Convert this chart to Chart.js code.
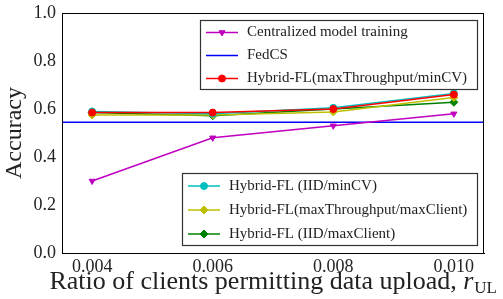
<!DOCTYPE html>
<html>
<head>
<meta charset="utf-8">
<script src="https://cdn.jsdelivr.net/npm/chart.js@4/dist/chart.umd.min.js"></script>
<style>
  html, body { margin: 0; padding: 0; background: #fff; }
  #wrap { width: 503px; height: 299px; }
</style>
</head>
<body>
<div id="wrap"><canvas id="accChart" width="503" height="299"></canvas></div>
<script>
const ratios = [0.004, 0.006, 0.008, 0.010];
const xTicks = [0.004, 0.006, 0.008, 0.010];
const yTicks = [0.0, 0.2, 0.4, 0.6, 0.8, 1.0];
const xRange = [0.0035, 0.0105];

const centralized = [0.30, 0.48, 0.53, 0.58];
const fedcs = 0.545;
const hybridMaxTpMinCV = [0.585, 0.585, 0.600, 0.660];
const hybridIidMinCV = [0.590, 0.580, 0.605, 0.665];
const hybridMaxTpMaxClient = [0.575, 0.575, 0.588, 0.648];
const hybridIidMaxClient = [0.585, 0.572, 0.600, 0.628];

const serif = '"Liberation Serif", "DejaVu Serif", serif';

function pts(vals) {
    return ratios.map((x, i) => ({ x: x, y: vals[i] }));
}

function series(label, vals, color, marker, rot, size) {
    return {
        label: label,
        data: pts(vals),
        borderColor: color,
        backgroundColor: color,
        borderWidth: 1.5,
        pointStyle: marker,
        pointRotation: rot || 0,
        pointRadius: size || 3.5,
        pointBorderWidth: 1,
        tension: 0
    };
}

const datasets = [
    series('Centralized model training', centralized, '#bf00bf', 'triangle', 180, 3.5),
    {
        label: 'FedCS',
        data: [{ x: xRange[0], y: fedcs }, { x: xRange[1], y: fedcs }],
        borderColor: '#0000ff',
        backgroundColor: '#0000ff',
        borderWidth: 1.5,
        pointRadius: 0,
        pointStyle: 'line'
    },
    series('Hybrid-FL(maxThroughput/minCV)', hybridMaxTpMinCV, '#ff0000', 'circle', 0, 3.5),
    series('Hybrid-FL (IID/minCV)', hybridIidMinCV, '#00bfbf', 'circle', 0, 3.5),
    series('Hybrid-FL(maxThroughput/maxClient)', hybridMaxTpMaxClient, '#bfbf00', 'rectRot', 0, 4),
    series('Hybrid-FL (IID/maxClient)', hybridIidMaxClient, '#008000', 'rectRot', 0, 4)
];

// two legend boxes, as in the figure
const legendGroups = [
    { items: [0, 1, 2], x: 200, y: 20, w: 277, h: 69 },
    { items: [3, 4, 5], x: 182, y: 173, w: 295, h: 72 }
];

const decorations = {
    id: 'decorations',
    afterDraw(chart) {
        const ctx = chart.ctx;
        const area = chart.chartArea;
        ctx.save();
        // frame
        ctx.strokeStyle = '#000';
        ctx.lineWidth = 1;
        ctx.strokeRect(area.left + 0.5, area.top + 0.5, area.right - area.left - 1, area.bottom - area.top);

        // legends
        legendGroups.forEach(g => {
            ctx.fillStyle = '#fff';
            ctx.fillRect(g.x, g.y, g.w, g.h);
            ctx.strokeStyle = '#333';
            ctx.lineWidth = 1.2;
            ctx.strokeRect(g.x + 0.5, g.y + 0.5, g.w, g.h);
            const step = g.h / g.items.length;
            g.items.forEach((di, k) => {
                const ds = chart.data.datasets[di];
                const cy = g.y + step * (k + 0.5) + 1;
                const x0 = g.x + 6, x1 = g.x + 38;
                ctx.strokeStyle = ds.borderColor;
                ctx.lineWidth = 1.5;
                ctx.beginPath();
                ctx.moveTo(x0, cy);
                ctx.lineTo(x1, cy);
                ctx.stroke();
                if (ds.pointRadius > 0) {
                    ctx.fillStyle = ds.backgroundColor;
                    ctx.strokeStyle = ds.borderColor;
                    ctx.lineWidth = 1;
                    Chart.helpers.drawPoint(ctx, {
                        pointStyle: ds.pointStyle,
                        rotation: ds.pointRotation,
                        radius: ds.pointRadius,
                        borderWidth: 1
                    }, (x0 + x1) / 2, cy);
                }
                ctx.fillStyle = '#222';
                ctx.font = '15px ' + serif;
                ctx.textBaseline = 'middle';
                ctx.textAlign = 'left';
                ctx.fillText(ds.label, g.x + 47, cy);
            });
        });

        // x axis title with italic r and subscript UL
        ctx.fillStyle = '#222';
        ctx.textBaseline = 'alphabetic';
        ctx.textAlign = 'left';
        const main = 'Ratio of clients permitting data upload, ';
        const big = 26, small = 17;
        ctx.font = big + 'px ' + serif;
        const mw = ctx.measureText(main).width;
        ctx.font = 'italic ' + big + 'px ' + serif;
        const rw = ctx.measureText('r').width;
        ctx.font = small + 'px ' + serif;
        const sw = ctx.measureText('UL').width;
        const total = mw + rw + sw + 1;
        let tx = 497 - total;
        const ty = 289;
        ctx.font = big + 'px ' + serif;
        ctx.fillText(main, tx, ty);
        tx += mw;
        ctx.font = 'italic ' + big + 'px ' + serif;
        ctx.fillText('r', tx, ty);
        tx += rw;
        ctx.font = small + 'px ' + serif;
        ctx.fillText('UL', tx + 1, ty + 4);
        ctx.restore();
    }
};

const ctx = document.getElementById('accChart').getContext('2d');
const chart = new Chart(ctx, {
    type: 'line',
    data: { datasets: datasets },
    options: {
        responsive: false,
        animation: false,
        layout: { padding: { top: 13, right: 19, left: 0, bottom: 0 } },
        plugins: {
            legend: { display: false },
            tooltip: { enabled: false }
        },
        scales: {
            x: {
                type: 'linear',
                min: xRange[0],
                max: xRange[1],
                afterBuildTicks: s => { s.ticks = xTicks.map(v => ({ value: v })); },
                afterFit: s => { s.height = 46; },
                grid: { display: false, drawTicks: true, tickLength: 3, tickColor: '#000' },
                border: { color: '#000', width: 1 },
                ticks: {
                    color: '#222',
                    font: { family: serif, size: 18 },
                    padding: 0,
                    maxRotation: 0,
                    callback: v => Number(v).toFixed(3)
                }
            },
            y: {
                min: 0,
                max: 1,
                afterBuildTicks: s => { s.ticks = yTicks.map(v => ({ value: v })); },
                afterFit: s => { s.width = 62; },
                grid: { display: false, drawTicks: true, tickLength: 4, tickColor: '#000' },
                border: { color: '#000', width: 1 },
                title: {
                    display: true,
                    text: 'Accuracy',
                    color: '#222',
                    font: { family: serif, size: 24 },
                    padding: 0
                },
                ticks: {
                    color: '#222',
                    font: { family: serif, size: 18 },
                    padding: 2,
                    callback: v => Number(v).toFixed(1)
                }
            }
        }
    },
    plugins: [decorations]
});
</script>
</body>
</html>
